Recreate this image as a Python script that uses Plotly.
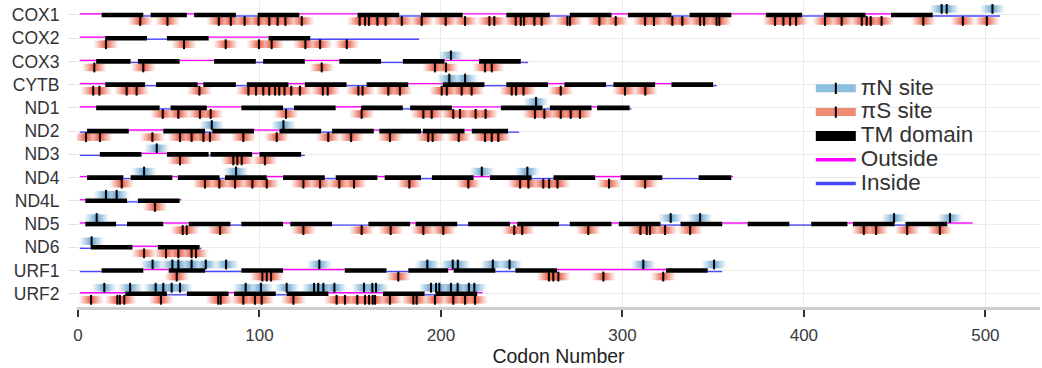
import plotly.graph_objects as go

# ---------------- data ----------------
GENES = ["COX1", "COX2", "COX3", "CYTB", "ND1", "ND2", "ND3", "ND4", "ND4L", "ND5", "ND6", "URF1", "URF2"]
GENE_LENGTH = [508, 188, 248, 352, 305, 243, 125, 361, 57, 493, 68, 355, 223]
FIRST_LOOP = ["out", "out", "out", "out", "out", "in", "in", "out", "out", "out", "in", "in", "out"]

COX1_TM = [(13, 36), (40, 60), (64, 87), (99, 122), (154, 177), (189, 212), (236, 260), (271, 294),
           (303, 327), (337, 360), (379, 399), (411, 434), (448, 471)]
COX2_TM = [(15, 38), (49, 72), (105, 128)]
COX3_TM = [(10, 29), (33, 56), (75, 98), (102, 125), (144, 167), (179, 202), (221, 244)]
CYTB_TM = [(15, 37), (43, 66), (69, 87), (93, 116), (125, 148), (159, 182), (201, 224), (236, 259),
           (268, 291), (295, 318), (327, 350)]
ND1_TM = [(10, 45), (51, 71), (90, 113), (119, 142), (156, 179), (183, 206), (233, 256), (260, 283), (286, 304)]
ND2_TM = [(5, 28), (47, 70), (74, 97), (111, 134), (140, 163), (166, 189), (190, 213), (217, 237)]
ND3_TM = [(12, 35), (49, 72), (73, 96), (100, 123)]
ND4_TM = [(5, 25), (29, 52), (55, 78), (81, 104), (113, 136), (142, 165), (169, 189), (195, 218),
          (227, 250), (262, 285), (299, 322), (342, 360)]
ND4L_TM = [(4, 27), (33, 56)]
ND5_TM = [(4, 21), (27, 47), (61, 84), (90, 113), (117, 140), (160, 183), (186, 209), (215, 238),
          (242, 265), (271, 294), (298, 321), (332, 355), (369, 392), (404, 424), (427, 450), (456, 479)]
ND6_TM = [(7, 30), (44, 67)]
URF1_TM = [(13, 36), (50, 70), (90, 113), (147, 170), (182, 204), (207, 230), (241, 264), (324, 347)]
URF2_TM = [(26, 49), (60, 83), (86, 109), (115, 138), (168, 191), (197, 220)]

COX1_PIN = [475.9, 478.7, 503.9]
COX1_PIS = [34.3, 49.3, 77.6, 84.2, 91.8, 99.5, 105.4, 110.0, 114.3, 123.3, 155.2, 158.2, 160.3, 165.0,
            169.5, 178.4, 189.4, 202.6, 213.3, 226.7, 229.4, 241.2, 244.0, 245.8, 251.5, 255.5, 269.7,
            271.1, 287.3, 296.3, 312.5, 317.4, 327.5, 333.0, 342.8, 345.0, 351.9, 353.4, 384.1, 388.7,
            392.4, 395.7, 411.6, 420.8, 431.9, 434.6, 436.8, 442.8, 465.8, 487.6, 500.8]
COX2_PIN = []
COX2_PIS = [15.4, 58.4, 81.4, 99.7, 106.7, 125.3, 133.4, 148.1]
COX3_PIN = [205.5]
COX3_PIS = [9.0, 36.0, 134.3, 196.7, 202.8, 224.3, 228.0]
CYTB_PIN = [204.6, 213.3]
CYTB_PIS = [8.4, 11.8, 26.8, 32.3, 66.9, 93.9, 98.1, 102.1, 105.4, 108.6, 110.9, 113.8, 117.5, 122.3,
            134.9, 137.6, 154.5, 156.8, 171.0, 177.4, 200.4, 203.2, 211.4, 216.9, 239.0, 241.4, 245.5,
            266.0, 301.4, 312.6]
ND1_PIN = [252.4]
ND1_PIS = [46.7, 55.3, 67.2, 73.1, 114.6, 156.3, 190.3, 194.9, 206.8, 210.5, 219.1, 224.6, 251.8,
           257.0, 266.0, 271.5, 276.6]
ND2_PIN = [73.7, 113.2]
ND2_PIS = [4.4, 12.1, 41.0, 56.2, 62.6, 69.1, 72.7, 91.1, 109.5, 137.9, 150.5, 171.9, 193.0, 195.4,
           209.8, 224.3, 228.0, 231.6]
ND3_PIN = [43.4]
ND3_PIS = [56.2, 85.6, 87.8, 90.2, 103.0]
ND4_PIN = [36.4, 87.1, 222.5, 247.6]
ND4_PIS = [24.1, 70.0, 77.9, 86.5, 96.1, 104.0, 124.2, 133.4, 144.0, 152.1, 182.6, 215.1, 243.6,
           248.2, 256.4, 259.6, 264.2, 292.6, 312.5]
ND4L_PIN = [15.4, 21.3]
ND4L_PIS = [42.4]
ND5_PIN = [10.3, 326.6, 342.8, 449.7, 480.5]
ND5_PIS = [57.7, 59.9, 78.3, 124.2, 156.3, 172.3, 190.3, 201.3, 240.4, 244.8, 281.2, 309.9, 313.4,
           315.2, 323.5, 337.3, 433.0, 439.8, 456.9, 474.9]
ND6_PIN = [7.5]
ND6_PIS = [36.4, 48.5, 55.3, 62.6, 65.0]
URF1_PIN = [41.1, 52.0, 55.3, 62.6, 70.4, 81.6, 133.0, 192.5, 206.5, 209.3, 228.6, 237.8, 311.5, 350.5]
URF1_PIS = [54.4, 101.6, 104.0, 106.4, 176.5, 259.5, 261.9, 264.7, 289.5, 322.5]
URF2_PIN = [14.5, 28.7, 42.8, 47.0, 51.6, 56.2, 92.4, 100.8, 115.0, 130.1, 132.4, 135.2, 141.3, 157.6,
            162.2, 164.2, 194.5, 197.3, 199.1, 205.5, 209.2, 215.4, 218.4]
URF2_PIS = [7.2, 21.7, 23.1, 25.5, 45.7, 77.3, 78.6, 91.1, 97.5, 101.2, 118.7, 142.5, 147.1, 153.9,
            158.2, 160.4, 162.4, 163.7, 171.9, 184.8, 186.6, 196.7, 206.8, 213.3, 218.8]

TM = [COX1_TM, COX2_TM, COX3_TM, CYTB_TM, ND1_TM, ND2_TM, ND3_TM, ND4_TM, ND4L_TM, ND5_TM, ND6_TM, URF1_TM, URF2_TM]
PIN = [COX1_PIN, COX2_PIN, COX3_PIN, CYTB_PIN, ND1_PIN, ND2_PIN, ND3_PIN, ND4_PIN, ND4L_PIN, ND5_PIN,
       ND6_PIN, URF1_PIN, URF2_PIN]
PIS = [COX1_PIS, COX2_PIS, COX3_PIS, CYTB_PIS, ND1_PIS, ND2_PIS, ND3_PIS, ND4_PIS, ND4L_PIS, ND5_PIS,
       ND6_PIS, URF1_PIS, URF2_PIS]

# ---------------- styling ----------------
BLUE = "rgb(100,165,208)"
RED = "rgb(236,84,58)"
MAGENTA = "#FF00FF"
INSIDE_BLUE = "#4848FF"
FONT = "Liberation Sans, Arial, sans-serif"
LOOP_OFF = 0.045
SITE_OFF = 0.26
N_LEVELS = 12
HALF_MAX = 6.8
C_MAX = 0.93
# nested levels (outermost first) with per-level opacity giving a smooth fade
HALF_WIDTHS = [HALF_MAX * (N_LEVELS - m + 1) / N_LEVELS for m in range(1, N_LEVELS + 1)]
targets = [C_MAX * (m / N_LEVELS) ** 1.25 for m in range(1, N_LEVELS + 1)]
ALPHAS = []
prev_c = 0.0
for c in targets:
    ALPHAS.append(1 - (1 - c) / (1 - prev_c))
    prev_c = c

n = len(GENES)
row_y = [n - i for i in range(n)]

fig = go.Figure()

# gradient boxes for sites
for sites, off, color in [(PIN, SITE_OFF, BLUE), (PIS, -SITE_OFF, RED)]:
    for h, a in zip(HALF_WIDTHS, ALPHAS):
        xs, ys = [], []
        for gi, slist in enumerate(sites):
            for s in slist:
                xs += [s - h, s + h, None]
                ys += [row_y[gi] + off, row_y[gi] + off, None]
        fig.add_trace(go.Scatter(x=xs, y=ys, mode="lines", line=dict(color=color, width=7.3),
                                 opacity=a, showlegend=False, hoverinfo="skip"))

# loops (outside / inside)
loop_xy = {"out": ([], []), "in": ([], [])}
for gi in range(n):
    side = FIRST_LOOP[gi]
    prev = 1
    bounds = TM[gi] + [(GENE_LENGTH[gi], None)]
    for a, b in bounds:
        xs, ys = loop_xy[side]
        y = row_y[gi] + (LOOP_OFF if side == "out" else -LOOP_OFF)
        xs += [prev, a, None]
        ys += [y, y, None]
        side = "in" if side == "out" else "out"
        prev = b
for side, color in [("out", MAGENTA), ("in", INSIDE_BLUE)]:
    xs, ys = loop_xy[side]
    fig.add_trace(go.Scatter(x=xs, y=ys, mode="lines", line=dict(color=color, width=1.4),
                             showlegend=False, hoverinfo="skip"))

# TM domains
tx, ty = [], []
for gi in range(n):
    for a, b in TM[gi]:
        tx += [a, b, None]
        ty += [row_y[gi], row_y[gi], None]
fig.add_trace(go.Scatter(x=tx, y=ty, mode="lines", line=dict(color="black", width=4.6),
                         showlegend=False, hoverinfo="skip"))

# site ticks
for sites, off in [(PIN, SITE_OFF), (PIS, -SITE_OFF)]:
    xs, ys = [], []
    for gi, slist in enumerate(sites):
        for s in slist:
            xs.append(s)
            ys.append(row_y[gi] + off)
    fig.add_trace(go.Scatter(x=xs, y=ys, mode="markers",
                             marker=dict(symbol="line-ns", size=7, color="black",
                                         line=dict(width=2, color="black")),
                             showlegend=False, hoverinfo="skip"))

# legend entries
def lg(name):
    return '<span style="font-size:22.5px">' + name + "</span>"

fig.add_trace(go.Scatter(x=[None], y=[None], mode="lines+markers", name=lg("πN site"),
                         line=dict(color="rgb(140,190,222)", width=8),
                         marker=dict(symbol="line-ns", size=8, color="black", line=dict(width=2, color="black"))))
fig.add_trace(go.Scatter(x=[None], y=[None], mode="lines+markers", name=lg("πS site"),
                         line=dict(color="rgb(240,140,115)", width=8),
                         marker=dict(symbol="line-ns", size=8, color="black", line=dict(width=2, color="black"))))
fig.add_trace(go.Scatter(x=[None], y=[None], mode="lines", name=lg("TM domain"),
                         line=dict(color="black", width=10)))
fig.add_trace(go.Scatter(x=[None], y=[None], mode="lines", name=lg("Outside"),
                         line=dict(color=MAGENTA, width=3.5)))
fig.add_trace(go.Scatter(x=[None], y=[None], mode="lines", name=lg("Inside"),
                         line=dict(color=INSIDE_BLUE, width=3.5)))

fig.update_layout(
    width=1042, height=368,
    margin=dict(l=77, r=2, t=1, b=61),
    plot_bgcolor="white", paper_bgcolor="white",
    font=dict(family=FONT, color="#333333"),
    showlegend=True,
    legend=dict(x=0.762, y=0.77, xanchor="left", yanchor="top", bgcolor="rgba(0,0,0,0)",
                itemwidth=40,
                font=dict(size=16, color="#333333"), itemclick=False, itemdoubleclick=False),
    xaxis=dict(range=[-0.55, 530.1], tick0=0, dtick=100, showgrid=True, gridcolor="#ebebeb",
               gridwidth=1.2, zeroline=False, showline=True, linecolor="#cccccc", linewidth=2.5,
               ticks="outside", ticklen=7, tickwidth=1.5, tickcolor="#333333",
               tickfont=dict(size=17, color="#3a3a3a"), ticklabelstandoff=4,
               title=dict(text="Codon Number", font=dict(size=19.5, color="#222222"), standoff=6)),
    yaxis=dict(range=[0.43, 13.6], tickvals=row_y, ticktext=GENES, showgrid=True, gridcolor="#ebebeb",
               gridwidth=1.2, zeroline=False, showline=False, ticks="outside", ticklen=7,
               tickcolor="#dddddd", tickwidth=1.2, tickfont=dict(size=17.5, color="#333333"),
               ticklabelstandoff=6),
)

fig.write_html("out.html")
